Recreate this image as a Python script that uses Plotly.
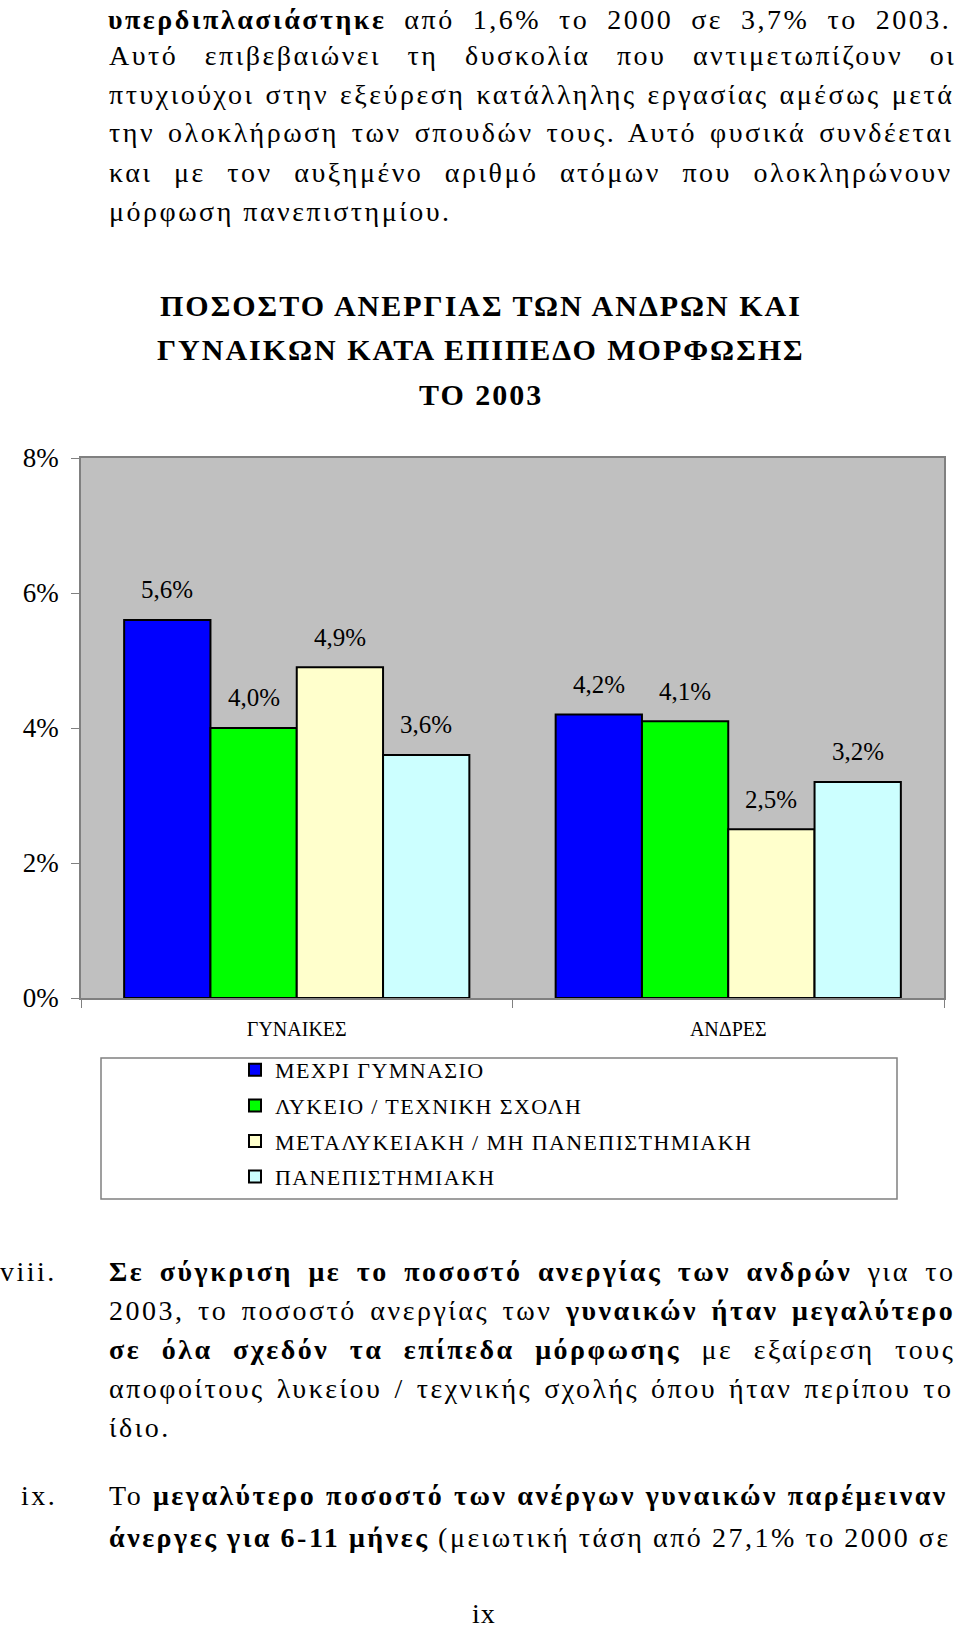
import plotly.graph_objects as go

W, H = 960, 1630

# chart data
groups = ["ΓΥΝΑΙΚΕΣ", "ΑΝΔΡΕΣ"]
levels = ["ΜΕΧΡΙ ΓΥΜΝΑΣΙΟ", "ΛΥΚΕΙΟ / ΤΕΧΝΙΚΗ ΣΧΟΛΗ",
          "ΜΕΤΑΛΥΚΕΙΑΚΗ / ΜΗ ΠΑΝΕΠΙΣΤΗΜΙΑΚΗ", "ΠΑΝΕΠΙΣΤΗΜΙΑΚΗ"]
gymnasio = [5.6, 4.2]
lykeio = [4.0, 4.1]
metalykeiaki = [4.9, 2.5]
panepistimiaki = [3.6, 3.2]
colors = ["#0000FF", "#00FF00", "#FFFFCC", "#CCFFFF"]
yticks = [0, 2, 4, 6, 8]

title_lines = ["ΠΟΣΟΣΤΟ ΑΝΕΡΓΙΑΣ ΤΩΝ ΑΝΔΡΩΝ ΚΑΙ",
               "ΓΥΝΑΙΚΩΝ ΚΑΤΑ ΕΠΙΠΕΔΟ ΜΟΡΦΩΣΗΣ",
               "ΤΟ 2003"]

# page text around the chart (text, extra word spacing for justified lines)
top_lines = [
    ("<b>υπερδιπλασιάστηκε</b> από 1,6% το 2000 σε 3,7% το 2003.", 8.5),
    ("Αυτό επιβεβαιώνει τη δυσκολία που αντιμετωπίζουν οι", 17),
    ("πτυχιούχοι στην εξεύρεση κατάλληλης εργασίας αμέσως μετά", 1.5),
    ("την ολοκλήρωση των σπουδών τους. Αυτό φυσικά συνδέεται", 3.5),
    ("και με τον αυξημένο αριθμό ατόμων που ολοκληρώνουν", 12),
    ("μόρφωση πανεπιστημίου.", 0),
]
viii_lines = [
    ("<b>Σε σύγκριση με το ποσοστό ανεργίας των ανδρών</b> για το", 6),
    ("2003, το ποσοστό ανεργίας των <b>γυναικών ήταν μεγαλύτερο</b>", 4),
    ("<b>σε όλα σχεδόν τα επίπεδα μόρφωσης</b> με εξαίρεση τους", 11),
    ("αποφοίτους λυκείου / τεχνικής σχολής όπου ήταν περίπου το", 2.5),
    ("ίδιο.", 0),
]
ix_lines = [
    ("Το <b>μεγαλύτερο ποσοστό των ανέργων γυναικών παρέμειναν</b>", 0.3),
    ("<b>άνεργες για 6-11 μήνες</b> (μειωτική τάση από 27,1% το 2000 σε", -0.9),
]

FONT = "Liberation Serif"
LS = 2.5  # letter spacing of the body text


def px(x):
    return x / W


def py(y):
    return 1 - y / H


def spaced(t, ls, ws=0):
    return '<span style="letter-spacing:%spx;word-spacing:%spx">%s</span>' % (ls, ws, t)


fig = go.Figure()
series = [gymnasio, lykeio, metalykeiaki, panepistimiaki]
for i, (name, vals) in enumerate(zip(levels, series)):
    fig.add_trace(go.Bar(
        x=groups, y=vals, name=spaced(name, 1.4), legendgroup=name,
        marker=dict(color=colors[i], line=dict(color="black", width=2)),
    ))
    for j, v in enumerate(vals):
        fig.add_annotation(
            x=j - 0.3 + 0.2 * i, y=v, xref="x", yref="y",
            text=("%.1f" % v).replace(".", ",") + "%",
            showarrow=False, yshift=30,
            font=dict(family=FONT, size=25, color="black"))

ann = []
for k, t in enumerate(title_lines):
    ann.append(dict(x=px(481), y=py(305 + k * 45),
                    text="<b>" + spaced(t, 2) + "</b>", font=dict(size=30)))
for k, (t, ws) in enumerate(top_lines):
    a = dict(x=px(107), y=py(16 + k * 39), text=spaced(t, LS, ws),
             xanchor="left")
    if k == 0:
        # first line sits against the top edge
        a.update(y=1, yanchor="top", borderpad=0, yshift=-3)
    ann.append(a)
ann.append(dict(x=px(59), y=py(1271), text=spaced("viii.", LS),
                xanchor="right"))
for k, (t, ws) in enumerate(viii_lines):
    ann.append(dict(x=px(107), y=py(1271 + k * 39), text=spaced(t, LS, ws),
                    xanchor="left"))
ann.append(dict(x=px(59), y=py(1495), text=spaced("ix.", LS),
                xanchor="right"))
for k, (t, ws) in enumerate(ix_lines):
    ann.append(dict(x=px(107), y=py(1495 + k * 42), text=spaced(t, LS, ws),
                    xanchor="left"))
# page number against the bottom edge
ann.append(dict(x=px(484), y=0, yanchor="bottom", borderpad=0,
                text=spaced("ix", 1)))
for a in ann:
    a.setdefault("xanchor", "center")
    a.setdefault("yanchor", "middle")
    a.setdefault("font", dict(size=28))
    a["font"] = dict(family=FONT, color="black", **a["font"])
    fig.add_annotation(xref="paper", yref="paper", showarrow=False, **a)

# legend frame
fig.add_shape(type="rect", xref="paper", yref="paper",
              x0=px(101), x1=px(897), y0=py(1199), y1=py(1058),
              line=dict(color="#808080", width=1.5), fillcolor="white",
              layer="below")

fig.update_layout(
    width=W, height=H,
    margin=dict(l=0, r=0, t=0, b=0, pad=0, autoexpand=False),
    paper_bgcolor="white",
    plot_bgcolor="#C0C0C0",
    barmode="group",
    bargap=0.2,
    bargroupgap=0,
    font=dict(family=FONT, color="black"),
    legend=dict(x=px(235), y=py(1049), xanchor="left", yanchor="top",
                font=dict(family=FONT, size=22, color="black"),
                bgcolor="rgba(0,0,0,0)", traceorder="grouped",
                tracegroupgap=4),
    xaxis=dict(domain=[px(81), px(944)], type="category",
               tickson="boundaries", ticks="outside", ticklen=8,
               tickcolor="#808080", showline=True, linecolor="#808080",
               linewidth=1.5, mirror=True, showgrid=False,
               tickfont=dict(family=FONT, size=20, color="black"),
               ticklabelstandoff=12),
    yaxis=dict(domain=[py(998), py(458)], range=[0, 8],
               tickvals=yticks, ticktext=[str(v) + "%" for v in yticks],
               ticks="outside", ticklen=8, tickcolor="#808080",
               showline=True, linecolor="#808080", linewidth=1.5,
               mirror=True, showgrid=False, zeroline=False,
               tickfont=dict(family=FONT, size=27, color="black"),
               ticklabelstandoff=7),
)

# page fills the window from the top-left corner
fig.write_html("out.html", config={"displayModeBar": False},
               post_script="document.body.style.margin = '0px';")
